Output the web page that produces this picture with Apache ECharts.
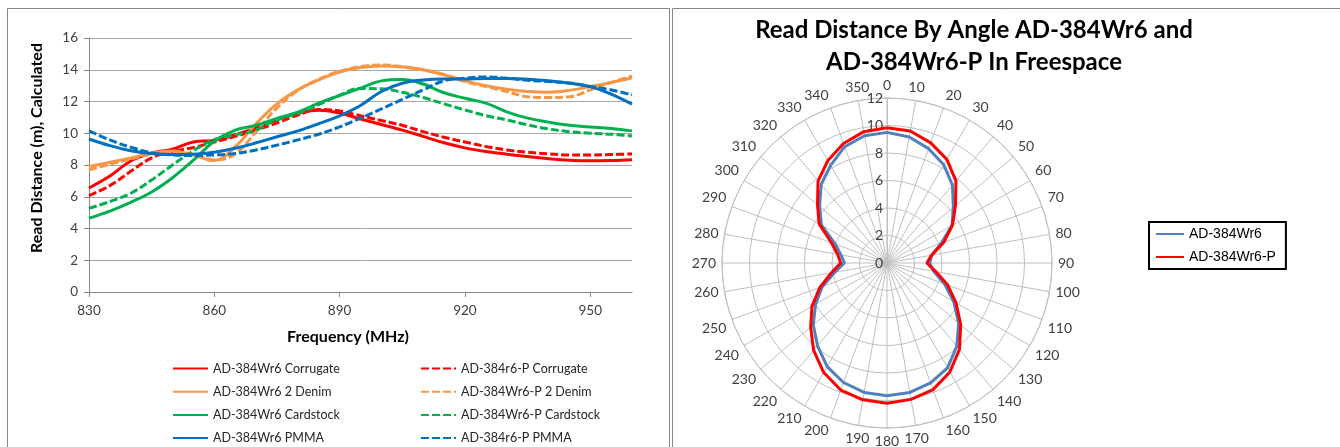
<!DOCTYPE html>
<html><head><meta charset="utf-8">
<script src="https://cdn.jsdelivr.net/npm/echarts@6.0.0/dist/echarts.min.js"></script>
<style>html,body{margin:0;padding:0;background:#fff}#c{width:1340px;height:447px}</style>
</head><body><div id="c"></div>
<script>
// ---------- Left chart: read distance vs frequency ----------
const freqs = [830,835,840,845,850,855,860,865,870,875,880,885,890,895,900,905,910,915,920,925,930,935,940,945,950,955,960];
const xTicks = [830,860,890,920,950];
const corrugate   = [6.55,7.3,8.25,8.75,9.0,9.45,9.55,9.9,10.35,10.85,11.25,11.45,11.27,10.9,10.55,10.2,9.8,9.4,9.08,8.85,8.68,8.53,8.4,8.3,8.26,8.28,8.33];
const corrugateP  = [6.07,6.7,7.6,8.45,8.85,9.1,9.45,9.8,10.2,10.65,11.15,11.5,11.4,11.1,10.8,10.5,10.1,9.75,9.45,9.17,8.95,8.8,8.7,8.63,8.63,8.66,8.7];
const denim       = [7.9,8.17,8.45,8.75,8.88,8.62,8.28,9.15,10.6,11.85,12.73,13.36,13.86,14.14,14.24,14.18,14.0,13.68,13.3,13.0,12.77,12.63,12.58,12.7,12.94,13.2,13.5];
const denimP      = [7.7,8.05,8.38,8.68,8.8,8.68,8.32,8.7,10.1,11.6,12.7,13.4,13.9,14.2,14.3,14.2,14.0,13.7,13.26,12.94,12.63,12.3,12.25,12.3,12.73,13.2,13.6];
const cardstock   = [4.65,5.1,5.65,6.3,7.2,8.3,9.5,10.2,10.5,10.93,11.33,11.9,12.38,12.84,13.3,13.38,13.1,12.55,12.2,11.9,11.35,10.95,10.7,10.5,10.4,10.3,10.15];
const cardstockP  = [5.27,5.7,6.22,7.06,8.0,8.9,9.6,9.9,10.2,10.85,11.25,11.8,12.4,12.82,12.8,12.58,12.25,11.85,11.47,11.11,10.84,10.53,10.27,10.1,10.0,9.94,9.83];
const pmma        = [9.64,9.22,8.9,8.72,8.66,8.68,8.8,9.05,9.4,9.78,10.15,10.6,11.1,11.75,12.63,13.15,13.36,13.42,13.42,13.45,13.45,13.4,13.3,13.15,12.94,12.46,11.83];
const pmmaP       = [10.15,9.58,9.12,8.78,8.63,8.6,8.63,8.72,8.95,9.25,9.58,9.94,10.4,10.95,11.53,12.14,12.73,13.3,13.47,13.55,13.47,13.34,13.26,13.17,12.95,12.73,12.42];

// ---------- Right chart: read distance by angle ----------
const angles = [0,10,20,30,40,50,60,70,80,90,100,110,120,130,140,150,160,170,180,190,200,210,220,230,240,250,260,270,280,290,300,310,320,330,340,350];
const wr6  = [9.5,9.3,8.85,8.25,7.4,6.3,5.45,4.2,3.3,3.1,3.45,4.45,5.6,6.8,7.9,8.8,9.27,9.56,9.66,9.56,9.25,8.7,7.86,7.0,6.0,5.0,3.85,3.1,3.4,4.0,5.5,6.4,7.45,8.2,9.0,9.4];
const wr6P = [9.83,9.75,9.3,8.7,7.8,6.5,5.5,4.4,3.3,2.9,3.6,4.7,5.8,7.0,8.2,9.15,9.8,10.07,10.2,10.1,9.83,9.2,8.3,7.25,6.3,5.2,4.1,3.37,3.65,4.3,5.7,6.6,7.8,8.6,9.25,9.7];

const RED='#FF0000', ORANGE='#F79646', GREEN='#00B050', BLUE='#0070C0';
const FONT='Lato';

function lineSeries(name, vals, color, dashed){
  return {type:'line', name:name, xAxisIndex:0, yAxisIndex:0,
    data: freqs.map((f,i)=>[f, vals[i]]), smooth:0.4, symbol:'none', showSymbol:false,
    lineStyle:{color:color, width:3, type: dashed ? [8,3] : 'solid'},
    itemStyle:{color:color}};
}
function polarSeries(name, vals, color){
  const d = angles.map((a,i)=>[vals[i], a]);
  d.push([vals[0], 360]);
  return {type:'line', name:name, coordinateSystem:'polar', data:d, symbol:'none', showSymbol:false, smooth:false,
    lineStyle:{color:color, width:3}, itemStyle:{color:color}};
}

const chart = echarts.init(document.getElementById('c'), null, {renderer:'canvas'});
const legendText = {fontFamily:FONT, fontSize:12.5, color:'#262626'};
const noSym = {opacity:0};
chart.setOption({
  animation:false,
  backgroundColor:'#fff',
  grid:{left:89, right:708, top:38, bottom:155, containLabel:false},
  xAxis:{type:'value', min:830, max:960,
    axisLine:{lineStyle:{color:'#868686'}},
    axisTick:{show:true, length:5, customValues:xTicks, lineStyle:{color:'#868686'}},
    axisLabel:{customValues:xTicks, color:'#404040', fontSize:13.5, fontFamily:FONT, margin:12},
    splitLine:{show:false}},
  yAxis:{type:'value', min:0, max:16, interval:2,
    axisLine:{show:true, lineStyle:{color:'#868686'}},
    axisTick:{show:true, length:5, lineStyle:{color:'#868686'}},
    axisLabel:{color:'#404040', fontSize:13.5, fontFamily:FONT, margin:11},
    splitLine:{lineStyle:{color:'#a6a6a6'}}},
  polar:{center:[887,263], radius:165},
  angleAxis:{type:'value', min:0, max:360, interval:10, startAngle:90, clockwise:true,
    axisLine:{lineStyle:{color:'#bfbfbf'}}, axisTick:{show:false},
    splitLine:{lineStyle:{color:'#bfbfbf'}},
    axisLabel:{formatter:v=> v>=360 ? '' : String(v), margin:6, color:'#404040', fontSize:14, fontFamily:FONT}},
  radiusAxis:{type:'value', min:0, max:12, interval:2,
    axisLine:{lineStyle:{color:'#bfbfbf'}}, axisTick:{show:false},
    splitLine:{lineStyle:{color:'#bfbfbf'}},
    axisLabel:{color:'#404040', fontSize:14, fontFamily:FONT, margin:4}},
  legend:[
    {left:172, top:362, orient:'vertical', padding:0, itemWidth:35, itemHeight:14, itemGap:10.2, itemStyle:noSym,
     data:['AD-384Wr6 Corrugate','AD-384Wr6 2 Denim','AD-384Wr6 Cardstock','AD-384Wr6 PMMA'], textStyle:legendText},
    {left:420, top:362, orient:'vertical', padding:0, itemWidth:35, itemHeight:14, itemGap:10.2, itemStyle:noSym,
     data:['AD-384r6-P Corrugate','AD-384Wr6-P 2 Denim','AD-384Wr6-P Cardstock','AD-384r6-P PMMA'], textStyle:legendText},
    {left:1149, top:222, orient:'vertical', itemWidth:28, itemHeight:14, itemGap:9, itemStyle:noSym,
     padding:[5,10,5,6], borderColor:'#000', borderWidth:2,
     data:['AD-384Wr6','AD-384Wr6-P'], textStyle:{fontFamily:'Liberation Sans', fontSize:14, color:'#000'}}
  ],
  series:[
    lineSeries('AD-384Wr6 Corrugate', corrugate, RED, false),
    lineSeries('AD-384r6-P Corrugate', corrugateP, RED, true),
    lineSeries('AD-384Wr6 2 Denim', denim, ORANGE, false),
    lineSeries('AD-384Wr6-P 2 Denim', denimP, ORANGE, true),
    lineSeries('AD-384Wr6 Cardstock', cardstock, GREEN, false),
    lineSeries('AD-384Wr6-P Cardstock', cardstockP, GREEN, true),
    lineSeries('AD-384Wr6 PMMA', pmma, BLUE, false),
    lineSeries('AD-384r6-P PMMA', pmmaP, BLUE, true),
    polarSeries('AD-384Wr6', wr6, '#4F81BD'),
    polarSeries('AD-384Wr6-P', wr6P, '#FF0000')
  ],
  graphic:[
    {type:'rect', shape:{x:7.5, y:8.5, width:662, height:460}, style:{fill:'none', stroke:'#868686', lineWidth:1}, silent:true, z:-1},
    {type:'rect', shape:{x:672.5, y:8.5, width:700, height:460}, style:{fill:'none', stroke:'#868686', lineWidth:1}, silent:true, z:-1},
    {type:'text', x:37, y:148, rotation:Math.PI/2,
     style:{text:'Read Distance (m), Calculated', font:'bold 16px Lato', fill:'#000', textAlign:'center', textVerticalAlign:'middle', align:'center', verticalAlign:'middle'}},
    {type:'text', x:348, y:337,
     style:{text:'Frequency (MHz)', font:'bold 16px Lato', fill:'#000', textAlign:'center', textVerticalAlign:'middle', align:'center', verticalAlign:'middle'}},
    {type:'text', x:974, y:30,
     style:{text:'Read Distance By Angle AD-384Wr6 and', font:'bold 24px Lato', fill:'#000', textAlign:'center', textVerticalAlign:'middle', align:'center', verticalAlign:'middle'}},
    {type:'text', x:974, y:62,
     style:{text:'AD-384Wr6-P In Freespace', font:'bold 24px Lato', fill:'#000', textAlign:'center', textVerticalAlign:'middle', align:'center', verticalAlign:'middle'}}
  ]
});
</script>
</body></html>
